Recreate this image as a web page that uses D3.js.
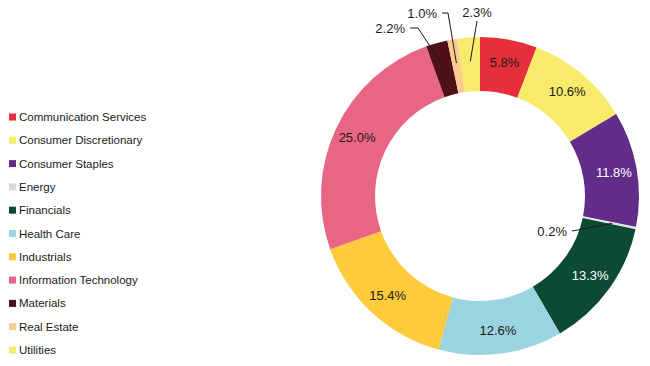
<!DOCTYPE html>
<html>
<head>
<meta charset="utf-8">
<script src="https://cdn.jsdelivr.net/npm/d3@7"></script>
<style>
html,body{margin:0;padding:0;background:#fff;}
svg{display:block;font-family:"Liberation Sans",Arial,sans-serif;}
</style>
</head>
<body>
<svg id="chart" width="650" height="366"></svg>
<script>
const categories = ["Communication Services","Consumer Discretionary","Consumer Staples","Energy","Financials","Health Care","Industrials","Information Technology","Materials","Real Estate","Utilities"];
const values = [5.8, 10.6, 11.8, 0.2, 13.3, 12.6, 15.4, 25.0, 2.2, 1.0, 2.3];
const colors = ["#E72F3B","#F8EA6A","#622C89","#D9D9D9","#0C4A33","#9AD4E1","#FFCB3B","#E96584","#4E1115","#FCCB8F","#F8EA6A"];
const labelColors = ["#1a1a1a","#1a1a1a","#ffffff","#1a1a1a","#ffffff","#1a1a1a","#1a1a1a","#1a1a1a","#1a1a1a","#1a1a1a","#1a1a1a"];
// outside labels (index -> label anchor and elbow layout)
const outside = {
  3: {tx: 567, ty: 231, anchor: "end", pts: [[572,231],[583,229]]},
  8: {tx: 405, ty: 28, anchor: "end", pts: [[410,28],[418,28]]},
  9: {tx: 437, ty: 13, anchor: "end", pts: [[442,13],[448,13]]},
  10:{tx: 477, ty: 12, anchor: "middle", pts: [[477,21]]}
};

const svg = d3.select("#chart");
const cx = 480, cy = 196, R = 159, r = 105;

const pie = d3.pie().sort(null).value(d => d).startAngle(0).endAngle(2*Math.PI);
const arcs = pie(values);
const arc = d3.arc().innerRadius(r).outerRadius(R);
const labelArc = d3.arc().innerRadius(136).outerRadius(136);
const lineArc = d3.arc().innerRadius(135).outerRadius(135);

const g = svg.append("g").attr("transform", `translate(${cx},${cy})`);
g.selectAll("path.slice").data(arcs).enter().append("path")
  .attr("class","slice")
  .attr("d", arc)
  .attr("fill", (d,i) => colors[i])
  .attr("stroke", "#fff")
  .attr("stroke-width", (d,i) => i===3 ? 0.6 : 0);

const fmt = v => v.toFixed(1) + "%";

arcs.forEach((d,i) => {
  if (outside[i]) {
    const o = outside[i];
    const end = lineArc.centroid(d);
    const pts = o.pts.map(p => [p[0]-cx, p[1]-cy]).concat([end]);
    g.append("path")
      .attr("d", d3.line()(pts))
      .attr("fill","none").attr("stroke","#1a1a1a").attr("stroke-width",1);
    g.append("text")
      .attr("x", o.tx - cx).attr("y", o.ty - cy)
      .attr("dy","0.35em")
      .attr("text-anchor", o.anchor)
      .attr("font-size", 13)
      .attr("fill", "#1a1a1a")
      .text(fmt(values[i]));
  } else {
    const c = labelArc.centroid(d);
    g.append("text")
      .attr("x", c[0]).attr("y", c[1])
      .attr("dy","0.35em")
      .attr("text-anchor","middle")
      .attr("font-size", 13)
      .attr("fill", labelColors[i])
      .text(fmt(values[i]));
  }
});

// legend
const ly = d3.scalePoint().domain(categories).range([117, 350]);
const leg = svg.append("g");
categories.forEach((c,i) => {
  const y = ly(c);
  leg.append("rect").attr("x", 9).attr("y", y-3.5).attr("width", 7).attr("height", 7).attr("fill", colors[i]);
  leg.append("text").attr("x", 19).attr("y", y).attr("dy","0.35em")
    .attr("font-size", 11.5).attr("fill","#1a1a1a").text(c);
});
</script>
</body>
</html>
